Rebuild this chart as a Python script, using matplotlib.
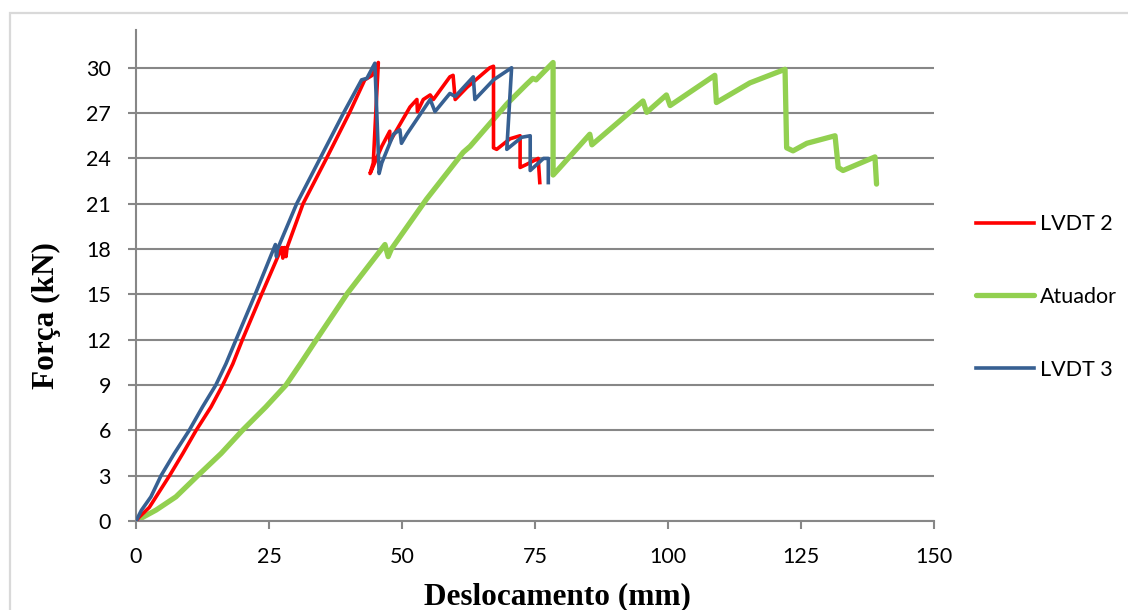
import matplotlib
matplotlib.use("Agg")
import matplotlib.pyplot as plt
from matplotlib.patches import Rectangle

# ---- data ----
lvdt2_x = [0, 0.6, 2.5, 6.3, 8.8, 11.3, 14.1, 16.3, 18.2, 20.0, 23.6, 27.4, 27.6, 27.9,
           28.2, 28.4, 31.4, 35.8, 40.1, 43.0, 44.4, 45.55, 44.6, 44.0, 46.2, 46.8, 47.7,
           47.7, 48.7, 51.5, 52.8, 52.9, 54.0, 55.3, 55.9, 59.0, 59.6, 60.0, 62.2, 66.5,
           67.2, 67.2, 67.8, 70.3, 72.2, 72.2, 73.4, 75.6, 75.9]
lvdt2_y = [0, 0.26, 0.9, 3.0, 4.47, 6.0, 7.55, 9.0, 10.4, 12.0, 15.0, 18.1, 17.4, 18.1,
           17.5, 18.1, 21.0, 24.0, 27.0, 29.2, 29.5, 30.35, 23.7, 23.0, 24.8, 25.2, 25.8,
           25.1, 25.7, 27.4, 27.9, 27.1, 27.9, 28.2, 27.9, 29.4, 29.5, 27.9, 28.7, 30.0,
           30.1, 24.7, 24.6, 25.3, 25.5, 23.4, 23.6, 24.0, 22.4]

atuador_x = [0, 3.8, 7.5, 11.6, 16.0, 20.0, 24.4, 28.2, 30.9, 33.9, 39.8, 46.8,
             47.4, 48.0, 54.6, 61.5, 62.8, 66.5, 69.7, 73.4, 74.6, 75.2, 78.4, 78.4, 79.7,
             85.3, 85.7, 95.3, 96.0, 99.7, 100.4, 108.8, 109.1, 115.4, 122.0, 122.3, 123.5,
             126.1, 131.4, 132.0, 132.9, 138.9, 139.2]
atuador_y = [0, 0.73, 1.6, 3.0, 4.47, 6.0, 7.55, 9.0, 10.4, 12.0, 15.1, 18.3,
             17.5, 18.0, 21.3, 24.4, 24.8, 26.3, 27.6, 28.9, 29.3, 29.2, 30.35, 22.9, 23.4,
             25.6, 24.9, 27.8, 27.05, 28.2, 27.5, 29.5, 27.7, 29.0, 29.9, 24.7, 24.5,
             25.0, 25.5, 23.4, 23.2, 24.1, 22.3]

lvdt3_x = [0, 1.0, 2.8, 4.7, 7.2, 10.0, 12.5, 15.0, 16.9, 18.8, 22.4, 26.2, 26.4, 26.6,
           30.2, 34.6, 39.0, 42.4, 43.4, 44.9, 45.7, 46.2, 48.4, 49.6, 49.9, 50.9, 55.3,
           56.2, 59.0, 60.0, 63.4, 63.7, 67.2, 70.6, 69.7, 72.5, 74.1, 74.1, 76.6, 77.5,
           77.5]
lvdt3_y = [0, 0.7, 1.6, 3.0, 4.47, 6.0, 7.55, 9.0, 10.4, 12.0, 15.0, 18.3, 17.5, 18.0,
           21.0, 24.0, 27.0, 29.2, 29.3, 30.3, 23.0, 23.7, 25.6, 25.9, 25.0, 25.6, 27.9,
           27.1, 28.3, 28.1, 29.4, 27.9, 29.2, 30.0, 24.6, 25.4, 25.5, 23.2, 24.0, 24.0,
           22.4]

series_labels = ["LVDT 2", "Atuador", "LVDT 3"]
x_ticks = [0, 25, 50, 75, 100, 125, 150]
y_ticks = [0, 3, 6, 9, 12, 15, 18, 21, 24, 27, 30]
x_title = "Deslocamento (mm)"
y_title = "Força (kN)"

W, H = 1128, 610
fig = plt.figure(figsize=(W / 100, H / 100), dpi=100)
fig.patch.set_facecolor("white")

# light outer frame
fig.patches.append(Rectangle((9.5 / W, (H - 1000) / H), (1200) / W, (1000 - 13.5) / H,
                             transform=fig.transFigure, fill=False,
                             edgecolor="#d9d9d9", linewidth=1.6))

ax_l, ax_r, ax_t, ax_b = 136, 934, 30, 521
ax = fig.add_axes([ax_l / W, (H - ax_b) / H, (ax_r - ax_l) / W, (ax_b - ax_t) / H])

grey = "#878787"
ax.plot(lvdt2_x, lvdt2_y, color="#ff0000", lw=2.6, label=series_labels[0],
        solid_joinstyle="round", zorder=3)
ax.plot(atuador_x, atuador_y, color="#92d050", lw=3.8, label=series_labels[1],
        solid_joinstyle="round", solid_capstyle="round", zorder=2)
ax.plot(lvdt3_x, lvdt3_y, color="#376092", lw=2.6, label=series_labels[2],
        solid_joinstyle="round", zorder=4)

ax.set_xlim(0, 150)
ax.set_ylim(0, 32.5)
ax.set_xticks(x_ticks)
ax.set_yticks(y_ticks)
ax.set_xticklabels([str(v) for v in x_ticks])
ax.set_yticklabels([str(v) for v in y_ticks])

ax.yaxis.grid(True, color=grey, lw=1.5)
ax.set_axisbelow(True)
for s in ["top", "right"]:
    ax.spines[s].set_visible(False)
for s in ["left", "bottom"]:
    ax.spines[s].set_color(grey)
    ax.spines[s].set_linewidth(1.5)

ax.tick_params(axis="both", direction="out", color=grey, width=1.5, length=6,
               labelsize=15.5, labelcolor="black")
ax.tick_params(axis="x", pad=13)
ax.tick_params(axis="y", pad=12)
for lab in ax.get_xticklabels() + ax.get_yticklabels():
    lab.set_fontfamily("Lato")

fig.text(557 / W, (H - 597) / H, x_title, ha="center", va="center",
         fontsize=22.5, fontweight="bold", family="Liberation Serif")
fig.text(46 / W, (H - 316) / H, y_title, ha="center", va="center", rotation=90,
         fontsize=22.5, fontweight="bold", family="Liberation Serif")

leg = fig.legend(loc="center left", bbox_to_anchor=(965 / W, (H - 297) / H),
                 frameon=False, prop={"family": "Lato", "size": 15.5},
                 handlelength=2.7, handletextpad=0.3, labelspacing=2.45,
                 borderpad=0)

fig.savefig("out.png", dpi=100, facecolor="white")
